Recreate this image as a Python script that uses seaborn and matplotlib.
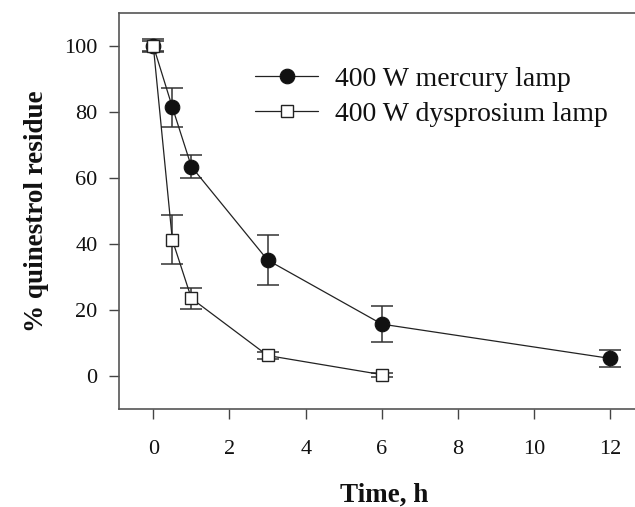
import matplotlib
matplotlib.use("Agg")
import matplotlib.pyplot as plt
import seaborn as sns
import pandas as pd

# Data
time_mercury = [0, 0.5, 1, 3, 6, 12]
mercury = [100, 81.4, 63.4, 35.1, 15.7, 5.3]
mercury_err = [2.0, 5.9, 3.4, 7.5, 5.4, 2.5]

time_dysprosium = [0, 0.5, 1, 3, 6]
dysprosium = [100, 41.2, 23.5, 6.2, 0.4]
dysprosium_err = [1.5, 7.4, 3.1, 1.0, 0.6]

series_names = ["400 W mercury lamp", "400 W dysprosium lamp"]
x_ticks = [0, 2, 4, 6, 8, 10, 12]
y_ticks = [0, 20, 40, 60, 80, 100]

sns.set_theme(style="ticks")
plt.rcParams["font.family"] = ["Liberation Serif", "DejaVu Serif"]

fig = plt.figure(figsize=(6.35, 5.07), dpi=100)
ax = fig.add_axes([119 / 635, 1 - 409 / 507, 529.6 / 635, 396.3 / 507])

df_m = pd.DataFrame({"Time": time_mercury, "Residue": mercury})
df_d = pd.DataFrame({"Time": time_dysprosium, "Residue": dysprosium})

line_col = "#222222"
err_col = "#333333"

# error bars (behind markers)
ax.errorbar(time_mercury, mercury, yerr=mercury_err, fmt="none", ecolor=err_col,
            elinewidth=1.1, capsize=8, capthick=1.1, zorder=2)
ax.errorbar(time_dysprosium, dysprosium, yerr=dysprosium_err, fmt="none", ecolor=err_col,
            elinewidth=1.1, capsize=8, capthick=1.1, zorder=2)

sns.lineplot(data=df_m, x="Time", y="Residue", ax=ax, color=line_col, linewidth=0.9,
             marker="o", markersize=10.5, markerfacecolor="#111111",
             markeredgecolor="#111111", markeredgewidth=0.8, label=series_names[0],
             zorder=3)
sns.lineplot(data=df_d, x="Time", y="Residue", ax=ax, color=line_col, linewidth=0.9,
             marker="s", markersize=8.5, markerfacecolor="white",
             markeredgecolor="#222222", markeredgewidth=1.0, label=series_names[1],
             zorder=4)

ax.set_xlim(-0.9, 13.0)
ax.set_ylim(-10, 110)
ax.set_xticks(x_ticks)
ax.set_yticks(y_ticks)

for s in ["left", "bottom", "top"]:
    ax.spines[s].set_color("#555555")
    ax.spines[s].set_linewidth(1.2)
ax.spines["right"].set_visible(False)

ax.tick_params(axis="both", direction="out", length=7.5, width=1.0, color="#444444",
               labelsize=16, labelcolor="#111111")
ax.tick_params(axis="y", pad=8)
ax.tick_params(axis="x", pad=15)

ax.set_xlabel("Time, h", fontsize=19.5, fontweight="bold", labelpad=17, color="#111111")
ax.set_ylabel("% quinestrol residue", fontsize=19.5, fontweight="bold", labelpad=11,
              color="#111111")

leg = ax.legend(loc="upper left", bbox_to_anchor=(0.257, 0.865), frameon=False,
                fontsize=20, handlelength=2.27, handletextpad=0.6,
                labelspacing=0.35, borderpad=0, borderaxespad=0)
for t in leg.get_texts():
    t.set_color("#111111")

fig.savefig("out.png", dpi=100)
